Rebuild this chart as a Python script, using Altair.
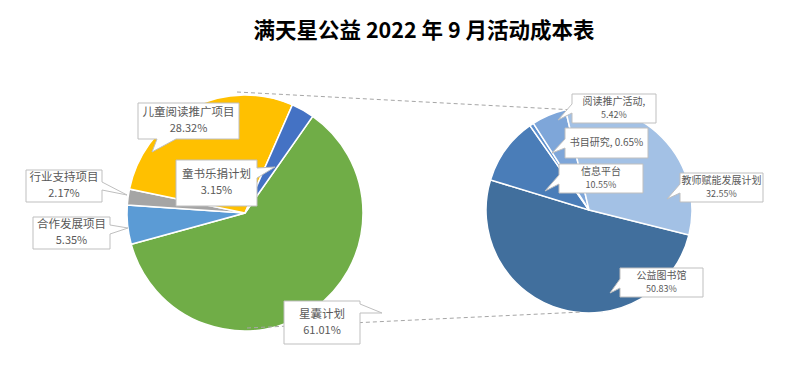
import math
import altair as alt
import pandas as pd

# ---------------- data ----------------
title_text = "满天星公益 2022 年 9 月活动成本表"

left_names = ["星囊计划", "合作发展项目", "行业支持项目", "儿童阅读推广项目", "童书乐捐计划"]
left_values = [61.01, 5.35, 2.17, 28.32, 3.15]
left_colors = ["#70AD47", "#5B9BD5", "#A5A5A5", "#FFC000", "#4472C4"]

right_names = ["公益图书馆", "信息平台", "书目研究", "阅读推广活动", "教师赋能发展计划"]
right_values = [50.83, 10.55, 0.65, 5.42, 32.55]
right_colors = ["#416F9D", "#4A7DB8", "#5C8FCE", "#7EA6D9", "#A3C1E5"]

# ---------------- layout ----------------
W, H = 800, 376
LEFT = dict(cx=245, cy=213, r=118, start=35.0)
RIGHT = dict(cx=589, cy=210, r=103, start=104.0)

# callout boxes: (x0, y0, x1, y1), tip, side, base (two coords along side)
LEFT_CALLOUTS = {
    "星囊计划": ((284, 301, 360, 344), (382, 313), "right", (304, 313)),
    "合作发展项目": ((33, 217, 110, 249), (128, 228), "right", (225, 234)),
    "行业支持项目": ((26, 170, 102, 202), (127, 195), "right", (182, 190)),
    "儿童阅读推广项目": ((138, 103, 239, 139), (152, 152), "bottom", (157, 176)),
    "童书乐捐计划": ((176, 160, 257, 206), (275, 167), "right", (168, 178)),
}
RIGHT_CALLOUTS = {
    "公益图书馆": ((620, 268, 703, 297), (610, 293), "left", (279, 288)),
    "信息平台": ((559, 164, 643, 193), (545, 191), "left", (175, 184)),
    "书目研究": ((565, 128, 648, 158), (552, 153), "left", (139, 148)),
    "阅读推广活动": ((572, 94, 656, 123), (558, 120), "left", (104, 113)),
    "教师赋能发展计划": ((680, 173, 763, 202), (667, 199), "left", (184, 193)),
}
SINGLE_LINE = {"书目研究"}
COMMA_NAME = {"阅读推广活动"}

DASHES = [(237, 92, 575, 110), (247, 328, 582, 312)]


def slices(names, values, colors, geo):
    total = sum(values)
    rows, acc = [], 0.0
    for n, v, c in zip(names, values, colors):
        t0 = math.radians(geo["start"]) + 2 * math.pi * acc / total
        acc += v
        t1 = math.radians(geo["start"]) + 2 * math.pi * acc / total
        rows.append(dict(name=n, value=v, color=c, t0=t0, t1=t1,
                         cx=geo["cx"], cy=geo["cy"]))
    return pd.DataFrame(rows)


def callout_path(box, tip, side, base):
    x0, y0, x1, y1 = box
    w, h = x1 - x0, y1 - y0
    tx, ty = tip[0] - x0, tip[1] - y0
    if side in ("left", "right"):
        b0, b1 = base[0] - y0, base[1] - y0
    else:
        b0, b1 = base[0] - x0, base[1] - x0
    if side == "right":
        pts = [(0, 0), (w, 0), (w, b0), (tx, ty), (w, b1), (w, h), (0, h)]
    elif side == "left":
        pts = [(0, 0), (w, 0), (w, h), (0, h), (0, b1), (tx, ty), (0, b0)]
    elif side == "bottom":
        pts = [(0, 0), (w, 0), (w, h), (b1, h), (tx, ty), (b0, h), (0, h)]
    else:
        pts = [(0, 0), (b0, 0), (tx, ty), (b1, 0), (w, 0), (w, h), (0, h)]
    return "M" + " L".join(f"{x:.1f},{y:.1f}" for x, y in pts) + " Z"


def label_rows(names, values, callouts, fs_name, fs_pct, gap):
    rows = []
    for n, v in zip(names, values):
        box, tip, side, base = callouts[n]
        x0, y0, x1, y1 = box
        cx, cy = (x0 + x1) / 2, (y0 + y1) / 2
        pct = f"{v:.2f}%"
        if n in SINGLE_LINE:
            rows.append(dict(t=f"{n}, {pct}", x=cx, y=cy, fs=fs_name))
        else:
            nm = n + "," if n in COMMA_NAME else n
            rows.append(dict(t=nm, x=cx, y=cy - gap, fs=fs_name))
            rows.append(dict(t=pct, x=cx, y=cy + gap, fs=fs_pct))
    return rows


left_df = slices(left_names, left_values, left_colors, LEFT)
right_df = slices(right_names, right_values, right_colors, RIGHT)

callout_df = pd.DataFrame(
    [dict(x=c[0][0], y=c[0][1], path=callout_path(*c))
     for c in list(LEFT_CALLOUTS.values()) + list(RIGHT_CALLOUTS.values())]
)
text_df = pd.DataFrame(
    label_rows(left_names, left_values, LEFT_CALLOUTS, 11.5, 11, 8)
    + label_rows(right_names, right_values, RIGHT_CALLOUTS, 10, 9, 6.5)
)
dash_df = pd.DataFrame([dict(x=a, y=b, x2=c, y2=d) for a, b, c, d in DASHES])
title_df = pd.DataFrame([dict(t=title_text, x=424, y=32)])

FONT = "Noto Sans CJK SC"


def pie(df, geo):
    return alt.Chart(df).mark_arc(radius=geo["r"], stroke="white", strokeWidth=1.5).encode(
        x=alt.X("cx:Q", scale=None, axis=None),
        y=alt.Y("cy:Q", scale=None, axis=None),
        theta=alt.Theta("t0:Q", scale=None),
        theta2="t1:Q",
        color=alt.Color("color:N", scale=None),
    )


callouts = alt.Chart(callout_df).mark_point(
    filled=True, fill="white", stroke="#BFBFBF", strokeWidth=1, size=4, opacity=1
).encode(
    x=alt.X("x:Q", scale=None, axis=None),
    y=alt.Y("y:Q", scale=None, axis=None),
    shape=alt.Shape("path:N", scale=None),
)

labels = alt.Chart(text_df).mark_text(
    font=FONT, color="#595959", align="center", baseline="middle"
).encode(
    x=alt.X("x:Q", scale=None, axis=None),
    y=alt.Y("y:Q", scale=None, axis=None),
    text="t:N",
    size=alt.Size("fs:Q", scale=None),
)

dashes = alt.Chart(dash_df).mark_rule(color="#A6A6A6", strokeDash=[4, 3], strokeWidth=1).encode(
    x=alt.X("x:Q", scale=None, axis=None),
    y=alt.Y("y:Q", scale=None, axis=None),
    x2="x2:Q",
    y2="y2:Q",
)

title = alt.Chart(title_df).mark_text(
    font=FONT, fontSize=21.5, fontWeight="bold", color="#000000", align="center", baseline="middle"
).encode(
    x=alt.X("x:Q", scale=None, axis=None),
    y=alt.Y("y:Q", scale=None, axis=None),
    text="t:N",
)

chart = alt.layer(
    pie(left_df, LEFT), pie(right_df, RIGHT), dashes, callouts, labels, title
).properties(
    width=W, height=H, padding=0, autosize=alt.AutoSizeParams(type="none"), background="white"
).configure_view(stroke=None)

chart.save("out.html", embed_options={"renderer": "svg", "actions": False})
